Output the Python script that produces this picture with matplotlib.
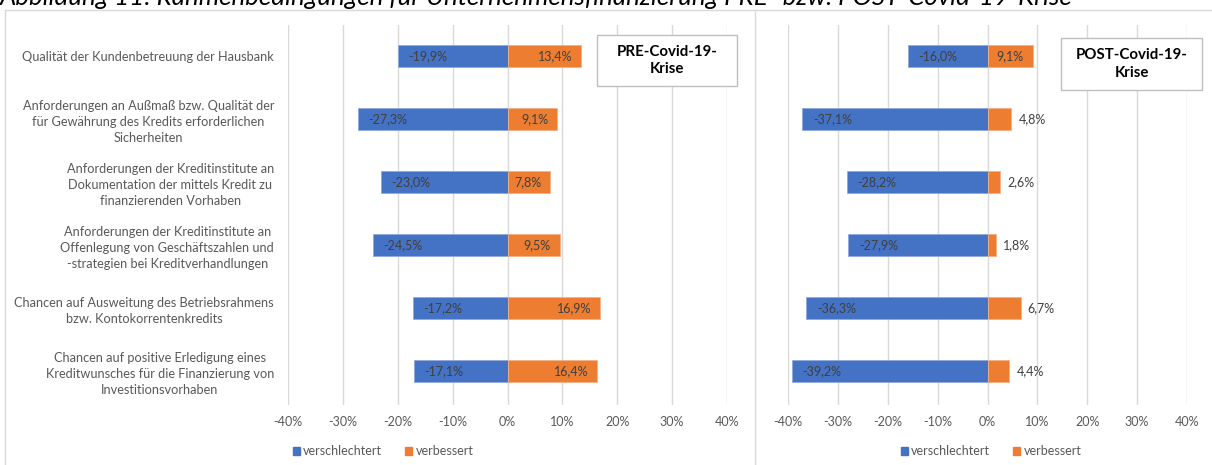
import matplotlib
matplotlib.use("Agg")
import matplotlib.pyplot as plt
from matplotlib.patches import Patch, Rectangle
from matplotlib.lines import Line2D

plt.rcParams["font.family"] = ["Lato", "DejaVu Sans"]

CATEGORIES = [
    "Qualität der Kundenbetreuung der Hausbank",
    "Anforderungen an Außmaß bzw. Qualität der\nfür Gewährung des Kredits erforderlichen\nSicherheiten",
    "Anforderungen der Kreditinstitute an\nDokumentation der mittels Kredit zu\nfinanzierenden Vorhaben",
    "Anforderungen der Kreditinstitute an\nOffenlegung von Geschäftszahlen und\n-strategien bei Kreditverhandlungen",
    "Chancen auf Ausweitung des Betriebsrahmens\nbzw. Kontokorrentenkredits",
    "Chancen auf positive Erledigung eines\nKreditwunsches für die Finanzierung von\nInvestitionsvorhaben",
]
PRE_WORSE = [-19.9, -27.3, -23.0, -24.5, -17.2, -17.1]
PRE_BETTER = [13.4, 9.1, 7.8, 9.5, 16.9, 16.4]
POST_WORSE = [-16.0, -37.1, -28.2, -27.9, -36.3, -39.2]
POST_BETTER = [9.1, 4.8, 2.6, 1.8, 6.7, 4.4]
XTICKS = [-40, -30, -20, -10, 0, 10, 20, 30, 40]
SERIES = ["verschlechtert", "verbessert"]
TITLE = "Abbildung 11: Rahmenbedingungen für Unternehmensfinanzierung PRE- bzw. POST-Covid-19-Krise"

BLUE = "#4472C4"
ORANGE = "#ED7D31"
GRID = "#D9D9D9"
TXT = "#404040"
TICK = "#595959"

W, H = 1212, 465
fig = plt.figure(figsize=(W / 100, H / 100), dpi=100)


def fx(px):
    return px / W


def fy(py):
    return 1 - py / H


def fmt(v):
    return f"{v:.1f}%".replace(".", ",")


def panel(x0, x1, worse, better, show_labels):
    ax = fig.add_axes([fx(x0), fy(405), fx(x1 - x0), fy(25) - fy(405)])
    ypos = list(range(len(CATEGORIES)))
    ax.barh(ypos, worse, height=0.35, color=BLUE, edgecolor="#8FAADC", linewidth=0.6)
    ax.barh(ypos, better, height=0.35, color=ORANGE, edgecolor="#F4B183", linewidth=0.6)
    ax.set_xlim(-40, 40)
    ax.set_ylim(5 + 34 / 63, -31 / 63)
    ax.set_xticks(XTICKS)
    ax.set_xticklabels([f"{t}%" for t in XTICKS])
    ax.grid(axis="x", color=GRID, linewidth=1)
    ax.set_axisbelow(True)
    for s in ax.spines.values():
        s.set_visible(False)
    ax.tick_params(axis="both", length=0, colors=TICK, labelsize=9)
    ax.tick_params(axis="x", pad=8)
    if show_labels:
        ax.set_yticks(ypos)
        ax.set_yticklabels(CATEGORIES, ha="right", multialignment="center",
                           linespacing=1.4, color=TICK, fontsize=9.2)
        ax.tick_params(axis="y", pad=10)
    else:
        ax.set_yticks([])
    px_per_unit = (x1 - x0) / 80
    for i, (w, b) in enumerate(zip(worse, better)):
        ax.annotate(fmt(w), (w, i), xytext=(7.5, 0), textcoords="offset points",
                    ha="left", va="center", color=TXT, fontsize=9)
        if b * px_per_unit > 40:
            ax.annotate(fmt(b), (b, i), xytext=(-6.5, 0), textcoords="offset points",
                        ha="right", va="center", color=TXT, fontsize=9)
        else:
            ax.annotate(fmt(b), (b, i), xytext=(5, 0), textcoords="offset points",
                        ha="left", va="center", color=TXT, fontsize=9)
    return ax


panel(288, 727, PRE_WORSE, PRE_BETTER, True)
panel(788, 1187, POST_WORSE, POST_BETTER, False)

# panel frames
for xs, ys in [((5, W), (10, 10)), ((5, 5), (10, H)), ((755, 755), (10, H))]:
    fig.add_artist(Line2D([fx(x) for x in xs], [fy(y) for y in ys], color=GRID, linewidth=1))

# title boxes
for (bx0, by0, bx1, by1), label in [((597, 35, 737, 86), "PRE-Covid-19-\nKrise"),
                                     ((1061, 38, 1202, 90), "POST-Covid-19-\nKrise")]:
    fig.add_artist(Rectangle((fx(bx0), fy(by1)), fx(bx1 - bx0), fy(by0) - fy(by1),
                             facecolor="white", edgecolor="#BFBFBF", linewidth=1))
    fig.text(fx((bx0 + bx1) / 2), fy((by0 + by1) / 2), label, ha="center", va="center",
             fontsize=10.8, fontweight="bold", color="black", linespacing=1.3)

# legends
handles = [Patch(color=BLUE, label=SERIES[0]), Patch(color=ORANGE, label=SERIES[1])]
for cx in (383, 991):
    fig.legend(handles=handles, loc="center", bbox_to_anchor=(fx(cx), fy(451)), ncol=2,
               frameon=False, handlelength=0.6, handleheight=0.6, handletextpad=0.25,
               columnspacing=1.8, fontsize=9, labelcolor=TICK)

# clipped caption at the very top
fig.text(0, fy(4.7), TITLE, ha="left", va="baseline", fontsize=18.6, style="italic", color="black")

fig.savefig("out.png", dpi=100)
